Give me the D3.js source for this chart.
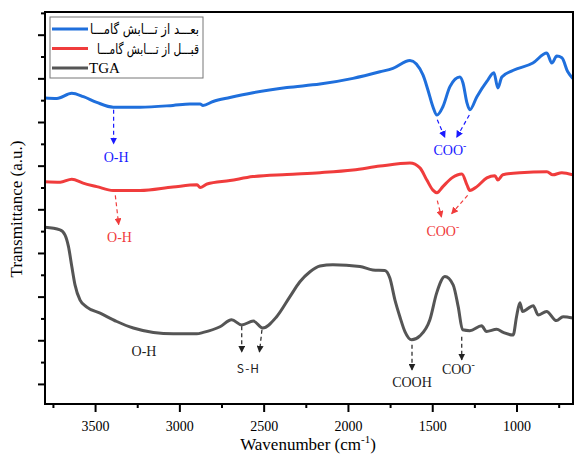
<!DOCTYPE html>
<html>
<head>
<meta charset="utf-8">
<script src="https://cdn.jsdelivr.net/npm/d3@7"></script>
<style>
  body { margin: 0; background: #fff; }
  svg text { font-family: "Liberation Serif", "DejaVu Serif", serif; }
</style>
</head>
<body>
<svg id="chart" width="576" height="458"></svg>
<script>
// wavenumber (cm-1) / transmittance (a.u.)
const afterWn = [3800, 3727, 3638, 3569, 3490, 3392, 3233, 3038, 2937, 2877, 2860, 2800, 2700, 2563, 2362, 2166, 1970, 1810, 1733, 1632, 1555, 1526, 1496, 1472, 1437, 1395, 1336, 1318, 1294, 1277, 1235, 1176, 1134, 1111, 1087, 1022, 903, 820, 791, 761, 731, 696, 666];
const afterT  = [65.5, 65.4, 66.6, 65.8, 64.5, 63.4, 63.4, 63.8, 64.1, 64.1, 63.8, 64.7, 65.6, 66.7, 67.9, 68.7, 70.0, 71.5, 72.3, 74.1, 70.8, 67.4, 63.5, 61.6, 63.5, 68.1, 70.3, 69.0, 64.4, 62.8, 65.8, 69.3, 71.3, 67.8, 70.3, 71.8, 73.5, 75.8, 73.5, 75.1, 74.7, 71.5, 70.0];

const beforeWn = [3800, 3707, 3638, 3571, 3490, 3393, 3233, 3038, 2895, 2877, 2836, 2700, 2563, 2362, 2166, 1970, 1810, 1632, 1573, 1532, 1496, 1472, 1437, 1383, 1324, 1294, 1277, 1235, 1176, 1128, 1111, 1081, 980, 820, 785, 731, 666];
const beforeT  = [46.3, 46.2, 46.9, 46.0, 45.2, 44.3, 44.3, 45.1, 45.6, 45.0, 45.8, 46.6, 47.5, 48.0, 48.4, 49.0, 49.9, 50.6, 49.5, 46.7, 44.4, 43.8, 45.2, 47.2, 48.1, 45.6, 44.3, 45.2, 47.2, 47.7, 46.7, 47.9, 48.4, 48.6, 47.9, 48.4, 47.9];

const tgaWn = [3800, 3708, 3678, 3658, 3638, 3619, 3589, 3549, 3470, 3371, 3273, 3154, 3036, 2897, 2858, 2759, 2690, 2630, 2561, 2506, 2423, 2344, 2285, 2225, 2166, 2089, 1929, 1852, 1781, 1751, 1721, 1692, 1662, 1622, 1573, 1514, 1474, 1425, 1376, 1346, 1320, 1277, 1207, 1178, 1118, 1079, 1020, 1000, 980, 964, 931, 901, 872, 822, 763, 724, 666];
const tgaT  = [35.9, 35.3, 34.1, 31.5, 26.9, 22.7, 19.2, 17.6, 16.2, 14.3, 12.8, 11.8, 11.5, 11.5, 11.8, 13.1, 14.7, 13.5, 14.4, 12.8, 15.4, 20.0, 23.4, 25.7, 27.0, 27.3, 26.9, 26.1, 26.0, 24.2, 19.2, 15.4, 12.0, 10.1, 11.0, 14.7, 20.8, 24.6, 22.7, 17.7, 12.4, 12.2, 13.3, 12.0, 12.5, 11.8, 11.2, 15.4, 18.6, 16.6, 17.3, 17.9, 15.8, 16.6, 14.5, 15.4, 15.1];

const seriesNames = ["بعـــد از تـــابش گامـــا", "قبـــل از تـــابش گامـــا", "TGA"];
const seriesColors = ["#1f6fdc", "#f03c3c", "#555555"];
const xTicks = [3500, 3000, 2500, 2000, 1500, 1000];

// band annotations: arrow from -> to, label at text (all in data units)
const annotations = [
  { label: "O-H", color: "#1a1aff", from: [3390, 62.8], to: [3390, 55.0], text: [3375, 50.8] },
  { label: "O-H", color: "#f03c3c", from: [3380, 43.2], to: [3360, 36.5], text: [3355, 32.4] },
  { label: "COO", sup: true, color: "#1a1aff", from: [1470, 60.5], to: [1425, 56.5], text: [1395, 52.4] },
  { label: "", color: "#1a1aff", from: [1280, 61.6], to: [1355, 56.5] },
  { label: "COO", sup: true, color: "#f03c3c", from: [1470, 42.0], to: [1445, 38.2], text: [1437, 34.0] },
  { label: "", color: "#f03c3c", from: [1290, 43.2], to: [1385, 39.0] },
  { label: "O-H", color: "#222", text: [3210, 6.5] },
  { label: "S-H", color: "#222", small: true, from: [2630, 13.2], to: [2630, 7.3], text: [2590, 2.6] },
  { label: "", color: "#222", from: [2510, 12.4], to: [2525, 7.3] },
  { label: "COOH", color: "#222", from: [1620, 9.0], to: [1620, 3.2], text: [1620, -0.8] },
  { label: "COO", sup: true, color: "#222", from: [1325, 10.8], to: [1325, 5.5], text: [1345, 2.2] }
];

const svg = d3.select("#chart");
const x = d3.scaleLinear().domain([3800, 665]).range([44.5, 573]);
const y = d3.scaleLinear().domain([-4.6, 85.2]).range([404, 12]);

svg.append("rect").attr("width", 576).attr("height", 458).attr("fill", "#fff");

svg.append("defs").append("clipPath").attr("id", "plot")
  .append("rect").attr("x", 45).attr("y", 12).attr("width", 528).attr("height", 392);

// arrow heads, one per colour
const defs = svg.select("defs");
["#1a1aff", "#f03c3c", "#222"].forEach((c, i) => {
  defs.append("marker")
    .attr("id", "arrow" + i)
    .attr("viewBox", "0 0 10 10")
    .attr("refX", 9).attr("refY", 5)
    .attr("markerWidth", 7).attr("markerHeight", 7)
    .attr("markerUnits", "userSpaceOnUse")
    .attr("orient", "auto")
    .append("path").attr("d", "M0,0 L10,5 L0,10 Z").attr("fill", c);
});
const markerFor = c => c === "#1a1aff" ? "url(#arrow0)" : c === "#f03c3c" ? "url(#arrow1)" : "url(#arrow2)";

// axes
svg.append("g")
  .attr("transform", "translate(0,404)")
  .call(d3.axisBottom(x).tickValues(xTicks).tickSize(8).tickFormat(d3.format("d")))
  .call(g => g.select(".domain").remove())
  .call(g => g.selectAll("line").attr("stroke", "#000").attr("stroke-width", 2))
  .call(g => g.selectAll("text").attr("font-size", 14).attr("fill", "#000").attr("dy", "1.15em")
    .attr("font-family", "Liberation Serif"));

svg.append("g")
  .attr("transform", "translate(0,404)")
  .call(d3.axisBottom(x).tickValues([3750, 3250, 2750, 2250, 1750, 1250, 750]).tickSize(4).tickFormat(""))
  .call(g => g.select(".domain").remove())
  .call(g => g.selectAll("line").attr("stroke", "#000").attr("stroke-width", 2));

svg.append("g")
  .attr("transform", "translate(45,0)")
  .call(d3.axisLeft(y).tickValues(d3.range(0, 81, 10)).tickSize(7).tickFormat(""))
  .call(g => g.select(".domain").remove())
  .call(g => g.selectAll("line").attr("stroke", "#000").attr("stroke-width", 2));

svg.append("g")
  .attr("transform", "translate(45,0)")
  .call(d3.axisLeft(y).tickValues(d3.range(5, 86, 10)).tickSize(4).tickFormat(""))
  .call(g => g.select(".domain").remove())
  .call(g => g.selectAll("line").attr("stroke", "#000").attr("stroke-width", 2));

// curves
const line = d3.line()
  .x(d => x(d[0]))
  .y(d => y(d[1]))
  .curve(d3.curveMonotoneX);

const curves = [
  d3.zip(afterWn, afterT),
  d3.zip(beforeWn, beforeT),
  d3.zip(tgaWn, tgaT)
];

svg.append("g").attr("clip-path", "url(#plot)")
  .selectAll("path")
  .data(curves)
  .join("path")
  .attr("d", line)
  .attr("fill", "none")
  .attr("stroke", (d, i) => seriesColors[i])
  .attr("stroke-width", 3)
  .attr("stroke-linejoin", "round");

// annotations
annotations.forEach(a => {
  if (a.from) {
    svg.append("line")
      .attr("x1", x(a.from[0])).attr("y1", y(a.from[1]))
      .attr("x2", x(a.to[0])).attr("y2", y(a.to[1]))
      .attr("stroke", a.color)
      .attr("stroke-width", 1.2)
      .attr("stroke-dasharray", "4,3")
      .attr("marker-end", markerFor(a.color));
  }
  if (a.text && a.label) {
    const t = svg.append("text")
      .attr("x", x(a.text[0])).attr("y", y(a.text[1]))
      .attr("text-anchor", "middle")
      .attr("fill", a.color)
      .attr("font-size", a.small ? 12 : 14);
    if (a.small) t.style("font-family", "'Noto Sans CJK SC', 'DejaVu Sans Mono', monospace").attr("letter-spacing", 1);
    t.append("tspan").text(a.label);
    if (a.sup) t.append("tspan").attr("dy", -6).attr("font-size", 10).text("-");
  }
});

// frame
svg.append("rect")
  .attr("x", 45).attr("y", 12).attr("width", 528).attr("height", 392)
  .attr("fill", "none").attr("stroke", "#000").attr("stroke-width", 2);

// legend
const legend = svg.append("g");
legend.append("rect")
  .attr("x", 50).attr("y", 17).attr("width", 153).attr("height", 61)
  .attr("fill", "#fff").attr("stroke", "#777").attr("stroke-width", 1);

const legendTextSpan = [[90, 109], [97, 102]];
seriesNames.forEach((name, i) => {
  const yy = 29 + i * 19.5;
  legend.append("line")
    .attr("x1", 52).attr("x2", 88).attr("y1", yy).attr("y2", yy)
    .attr("stroke", seriesColors[i]).attr("stroke-width", 3);
  if (i < 2) {
    legend.append("text")
      .attr("x", legendTextSpan[i][0]).attr("y", yy + 5)
      .attr("font-size", 14)
      .attr("textLength", legendTextSpan[i][1])
      .attr("lengthAdjust", "spacingAndGlyphs")
      .style("font-family", "'DejaVu Sans', sans-serif")
      .attr("fill", "#000")
      .text(name);
  } else {
    legend.append("text")
      .attr("x", 89).attr("y", yy + 5)
      .attr("font-size", 15)
      .attr("fill", "#000")
      .text(name);
  }
});

// axis titles
const xt = svg.append("text")
  .attr("x", 308).attr("y", 450)
  .attr("text-anchor", "middle")
  .attr("font-size", 17);
xt.append("tspan").text("Wavenumber (cm");
xt.append("tspan").attr("dy", -7).attr("font-size", 11).text("-1");
xt.append("tspan").attr("dy", 7).text(")");

svg.append("text")
  .attr("transform", "translate(22,209) rotate(-90)")
  .attr("text-anchor", "middle")
  .attr("font-size", 17)
  .text("Transmittance (a.u.)");
</script>
</body>
</html>
